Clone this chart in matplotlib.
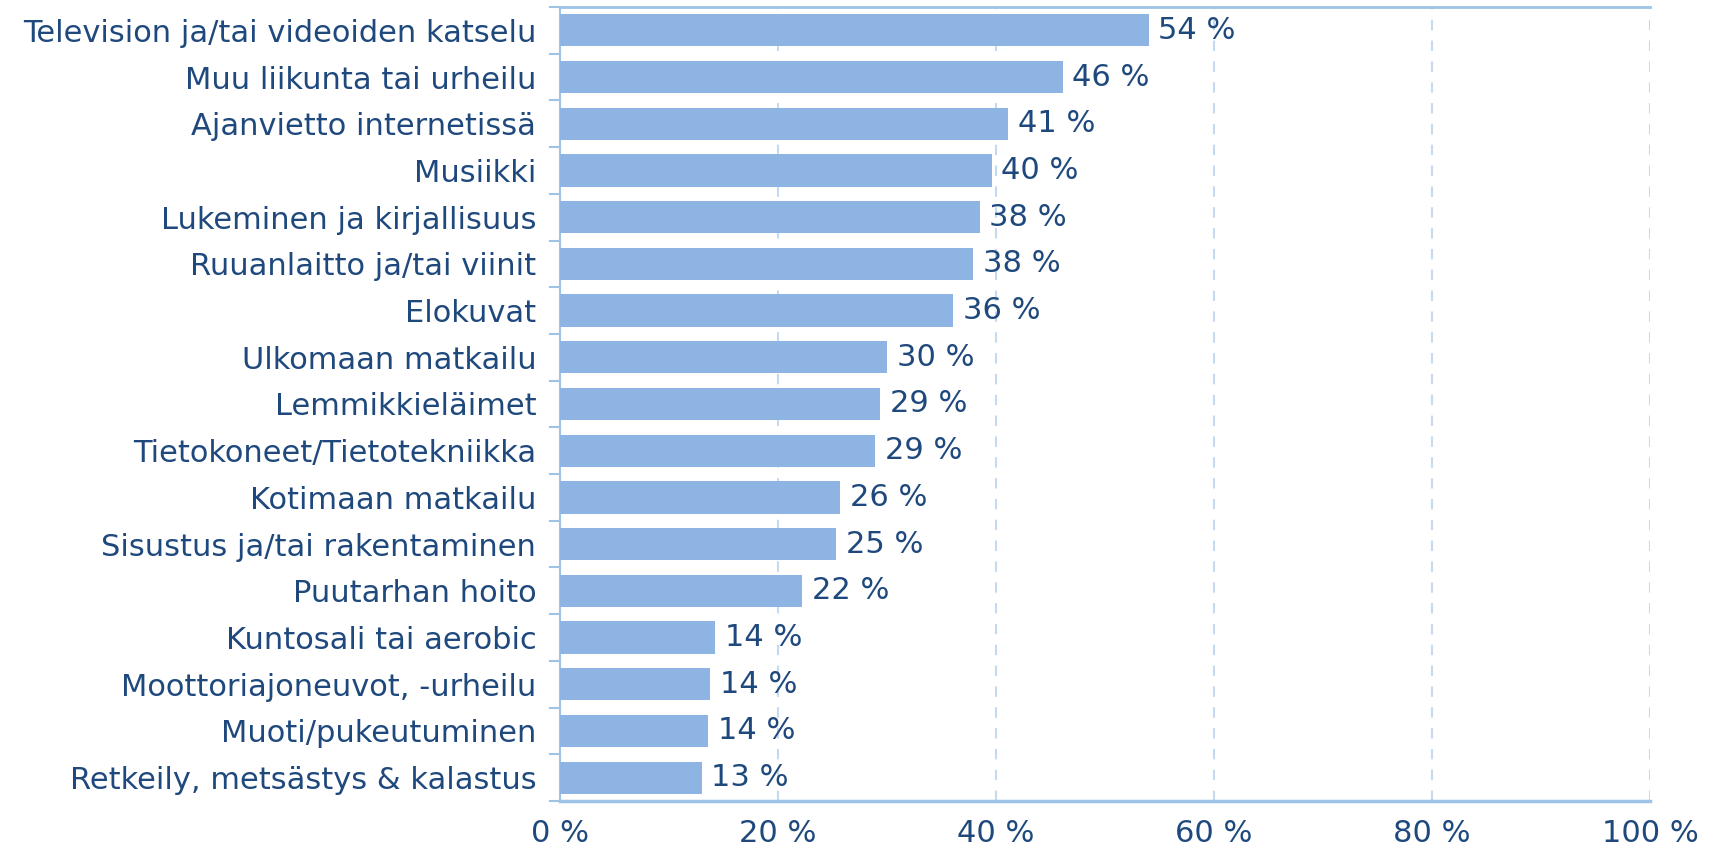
import matplotlib.pyplot as plt
import numpy as np

categories = [
    "Television ja/tai videoiden katselu",
    "Muu liikunta tai urheilu",
    "Ajanvietto internetissä",
    "Musiikki",
    "Lukeminen ja kirjallisuus",
    "Ruuanlaitto ja/tai viinit",
    "Elokuvat",
    "Ulkomaan matkailu",
    "Lemmikkieläimet",
    "Tietokoneet/Tietotekniikka",
    "Kotimaan matkailu",
    "Sisustus ja/tai rakentaminen",
    "Puutarhan hoito",
    "Kuntosali tai aerobic",
    "Moottoriajoneuvot, -urheilu",
    "Muoti/pukeutuminen",
    "Retkeily, metsästys & kalastus",
]
values = [54.0, 46.1, 41.1, 39.6, 38.5, 37.9, 36.1, 30.0, 29.4, 28.9,
          25.7, 25.3, 22.2, 14.2, 13.8, 13.6, 13.0]
xticks = [0, 20, 40, 60, 80, 100]

# colours
text_col = '#1F497D'
bar_col = '#8DB4E2'
axis_col = '#9DC3E6'
grid_col = '#C5DAF0'
fs = 22

plt.rcParams['font.family'] = ['DejaVu Sans']

fig = plt.figure(figsize=(17.14, 8.49), dpi=100)
ax = fig.add_axes([0.3267, 0.0565, 0.6360, 0.9353])

n = len(categories)
y = np.arange(n)
ax.barh(y, values, height=0.69, color=bar_col, zorder=3)

for yi, v in zip(y, values):
    ax.text(v + 0.9, yi, f"{v:.0f} %", va='center', ha='left',
            fontsize=fs, color=text_col, zorder=4)

ax.set_xlim(0, 100)
ax.set_ylim(n - 0.5, -0.5)

# category labels without ticks, ticks at boundaries
ax.set_yticks(y)
ax.set_yticklabels(categories, fontsize=fs, color=text_col)
ax.tick_params(axis='y', length=0, pad=17)
for b in np.arange(-0.5, n, 1.0):
    ax.plot([-0.9, 0], [b, b], color=axis_col, lw=1.5, clip_on=False, zorder=5)

ax.set_xticks(xticks)
ax.set_xticklabels([f"{t} %" for t in xticks], fontsize=fs, color=text_col)
ax.tick_params(axis='x', length=0, pad=13)

for t in xticks[1:]:
    ax.axvline(t, color=grid_col, lw=1.5, ls=(0, (5, 5)), zorder=1)

ax.spines['right'].set_visible(False)
ax.spines['left'].set_color(axis_col)
ax.spines['left'].set_linewidth(1.5)
ax.spines['top'].set_color(axis_col)
ax.spines['top'].set_linewidth(2)
ax.spines['bottom'].set_color(axis_col)
ax.spines['bottom'].set_linewidth(2.5)

fig.savefig('out.png', dpi=100)
